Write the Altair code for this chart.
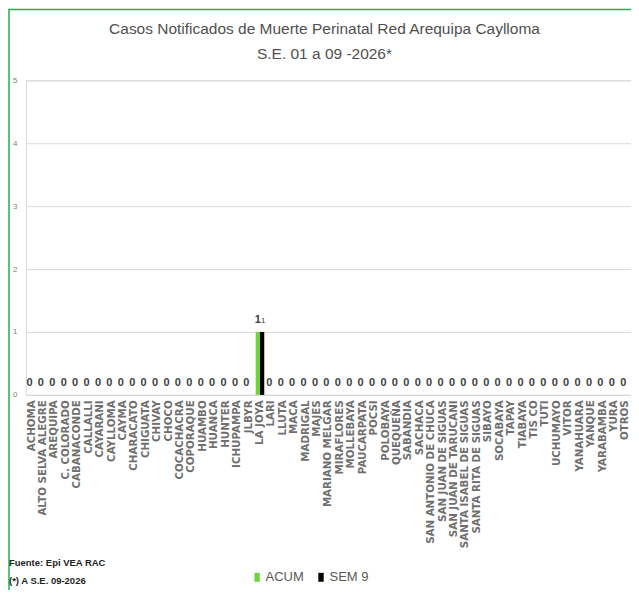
import altair as alt
import pandas as pd

categories = ["ACHOMA", "ALTO SELVA ALEGRE", "AREQUIPA", "C. COLORADO", "CABANACONDE",
              "CALLALLI", "CAYARANI", "CAYLLOMA", "CAYMA", "CHARACATO", "CHIGUATA",
              "CHIVAY", "CHOCO", "COCACHACRA", "COPORAQUE", "HUAMBO", "HUANCA", "HUNTER",
              "ICHUPAMPA", "JLBYR", "LA JOYA", "LARI", "LLUTA", "MACA", "MADRIGAL",
              "MAJES", "MARIANO MELGAR", "MIRAFLORES", "MOLLEBAYA", "PAUCARPATA", "POCSI",
              "POLOBAYA", "QUEQUEÑA", "SABANDIA", "SACHACA", "SAN ANTONIO DE CHUCA",
              "SAN JUAN DE SIGUAS", "SAN JUAN DE TARUCANI", "SANTA ISABEL DE SIGUAS",
              "SANTA RITA DE SIGUAS", "SIBAYO", "SOCABAYA", "TAPAY", "TIABAYA", "TIS CO",
              "TUTI", "UCHUMAYO", "VITOR", "YANAHUARA", "YANQUE", "YARABAMBA", "YURA",
              "OTROS"]
acum = [0] * len(categories)
sem9 = [0] * len(categories)
acum[categories.index("LA JOYA")] = 1
sem9[categories.index("LA JOYA")] = 1
series = ["ACUM", "SEM 9"]
colors = ["#70d23c", "#000000"]
y_ticks = [0, 1, 2, 3, 4, 5]

rows = []
for c, a, s in zip(categories, acum, sem9):
    rows.append({"cat": c, "serie": "ACUM", "val": a})
    rows.append({"cat": c, "serie": "SEM 9", "val": s})
df = pd.DataFrame(rows)

COND = "Liberation Sans Narrow, Liberation Sans, Arial, sans-serif"
W, H = 606, 315

x = alt.X("cat:N", sort=categories, title=None,
          scale=alt.Scale(paddingInner=0.25, paddingOuter=0.12),
          axis=alt.Axis(labelAngle=-90, labelFont="DejaVu Sans", labelFontWeight="bold",
                        labelFontSize=10.3, labelColor="#6f6f6f", ticks=False,
                        domainColor="#d9d9d9", labelPadding=5, labelLimit=300,
                        labelOverlap=False))
xo = alt.XOffset("serie:N", sort=series, scale=alt.Scale(paddingInner=0))
y = alt.Y("val:Q", title=None, scale=alt.Scale(domain=[0, 5], nice=False),
          axis=alt.Axis(values=y_ticks, domain=False, ticks=False, labelOverlap=False,
                        gridColor="#d9d9d9", labelFont=COND, labelFontSize=8,
                        labelColor="#7f7f7f", labelPadding=9))

base = alt.Chart(df)
bars = base.mark_bar().encode(
    x=x, xOffset=xo, y=y,
    color=alt.Color("serie:N", sort=series, scale=alt.Scale(domain=series, range=colors),
                    legend=alt.Legend(title=None, orient="none", legendX=225, legendY=491,
                                      direction="horizontal",
                                      symbolType="M-0.6,-1H0.6V1H-0.6Z",
                                      symbolSize=80, labelFont=COND, labelFontSize=13,
                                      labelColor="#595959", columnPadding=10,
                                      symbolStrokeWidth=0, labelOffset=2)))
lab_acum = base.transform_filter(alt.datum.serie == "ACUM").mark_text(
    dy=-7, fontWeight="bold", fontSize=11, color="#404040", font=COND, baseline="bottom"
).encode(x=x, xOffset=xo, y=y, text="val:Q")
lab_sem = base.transform_filter((alt.datum.serie == "SEM 9") & (alt.datum.val > 0)).mark_text(
    dy=-7, fontSize=8, color="#404040", font=COND, baseline="bottom", dx=1
).encode(x=x, xOffset=xo, y=y, text="val:Q")

foot1 = alt.Chart(pd.DataFrame({"t": ["Fuente: Epi VEA RAC"]})).mark_text(
    align="left", baseline="middle", font=COND, fontSize=9.5, fontWeight="bold", color="#1f1f1f"
).encode(x=alt.value(-17), y=alt.value(483), text="t:N")
foot2 = alt.Chart(pd.DataFrame({"t": ["(*) A S.E. 09-2026"]})).mark_text(
    align="left", baseline="middle", font=COND, fontSize=9.5, fontWeight="bold", color="#1f1f1f"
).encode(x=alt.value(-17), y=alt.value(501), text="t:N")

border = alt.Chart(pd.DataFrame({"a": [0]})).mark_rect(
    filled=False, stroke="#22b04b", strokeWidth=1.5
).encode(x=alt.value(-17), x2=alt.value(W + 6), y=alt.value(-71), y2=alt.value(H + 220))

chart = alt.layer(border, bars, lab_acum, lab_sem, foot1, foot2).properties(
    width=W, height=H,
    padding={"left": 18, "top": 72, "right": 0, "bottom": 195},
    autosize=alt.AutoSizeParams(type="none"),
    title=alt.Title(["Casos Notificados de Muerte Perinatal Red Arequipa Caylloma",
                     "S.E.  01 a 09 -2026*"],
                    font=COND, fontSize=15.5, fontWeight="normal", color="#505050",
                    lineHeight=25, anchor="middle", offset=-54, dx=-4)
).configure_view(stroke=None).configure(background="white")

chart.save("out.html", embed_options={"renderer": "svg", "actions": False})
